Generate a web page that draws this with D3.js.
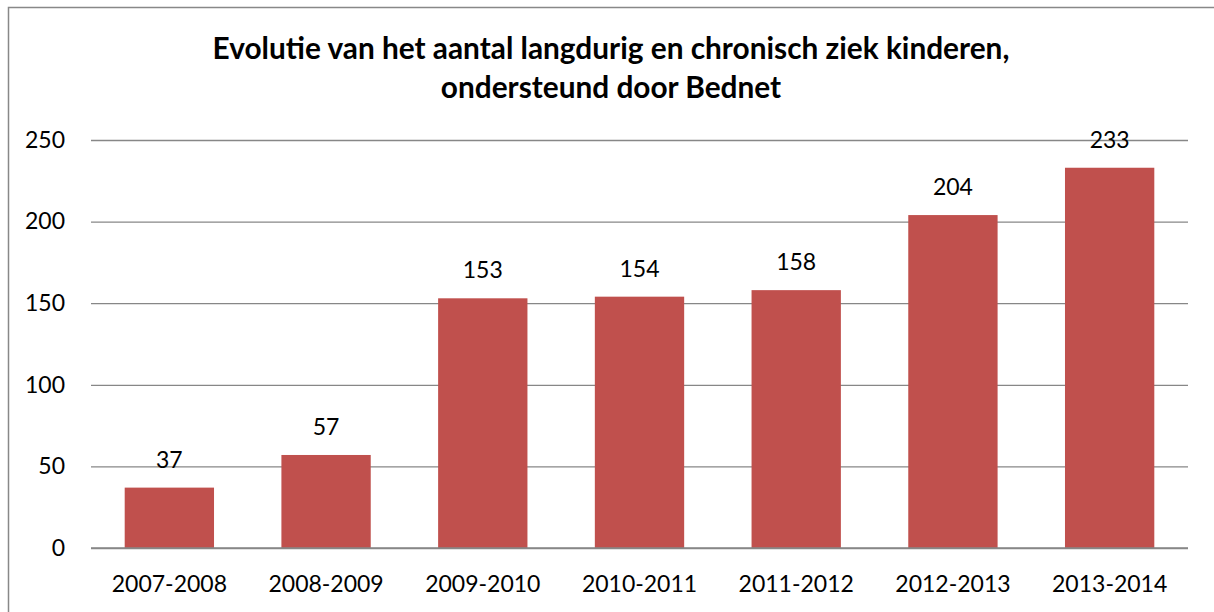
<!DOCTYPE html>
<html><head><meta charset="utf-8">
<script src="https://cdn.jsdelivr.net/npm/d3@7"></script>
<style>html,body{margin:0;background:#fff;overflow:hidden}svg{display:block}text{font-family:Lato,"Open Sans",sans-serif;fill:#000}</style>
</head><body>
<script>
const categories = ["2007-2008","2008-2009","2009-2010","2010-2011","2011-2012","2012-2013","2013-2014"];
const values = [37,57,153,154,158,204,233];
const yTicks = [0,50,100,150,200,250];
const titleLines = ["Evolutie van het aantal langdurig en chronisch ziek kinderen,","ondersteund door Bednet"];

const W=1214,H=612;
const svg=d3.select("body").append("svg").attr("width",W).attr("height",H);
svg.append("rect").attr("x",8.5).attr("y",7.5).attr("width",1300).attr("height",700)
  .attr("fill","#fff").attr("stroke","#888").attr("stroke-width",1.5);

const m={l:91,r:1188,t:140,b:548};
const x=d3.scaleBand().domain(categories).range([m.l,m.r]).paddingInner(0.43).paddingOuter(0.215);
const y=d3.scaleLinear().domain([0,250]).range([m.b,m.t]);

const ya=svg.append("g").attr("transform",`translate(${m.l},0)`)
  .call(d3.axisLeft(y).tickValues(yTicks).tickSize(-(m.r-m.l)).tickPadding(26));
ya.select(".domain").remove();
ya.selectAll(".tick line").attr("stroke","#878787").attr("stroke-width",1.3);
ya.selectAll(".tick text").attr("font-size",23).attr("font-family","Lato").attr("fill","#000");

svg.selectAll(".bar").data(values).join("rect").attr("class","bar")
  .attr("x",(d,i)=>x(categories[i])).attr("width",x.bandwidth())
  .attr("y",d=>y(d)).attr("height",d=>y(0)-y(d)).attr("fill","#C0504D");

svg.append("line").attr("x1",m.l).attr("x2",m.r).attr("y1",y(0)).attr("y2",y(0))
  .attr("stroke","#878787").attr("stroke-width",1.3);

const xa=svg.append("g").attr("transform",`translate(0,${m.b})`)
  .call(d3.axisBottom(x).tickSize(0).tickPadding(28));
xa.select(".domain").remove();
xa.selectAll(".tick text").attr("font-size",23).attr("font-family","Lato").attr("fill","#000");

svg.selectAll(".lbl").data(values).join("text").attr("class","lbl")
  .attr("x",(d,i)=>x(categories[i])+x.bandwidth()/2).attr("y",d=>y(d)-20)
  .attr("text-anchor","middle").attr("font-size",23).text(d=>d);

svg.selectAll(".title").data(titleLines).join("text").attr("class","title")
  .attr("x",611).attr("y",(d,i)=>59+i*39).attr("text-anchor","middle")
  .attr("font-weight","bold").attr("font-size",29.8).text(d=>d);
</script>
</body></html>
